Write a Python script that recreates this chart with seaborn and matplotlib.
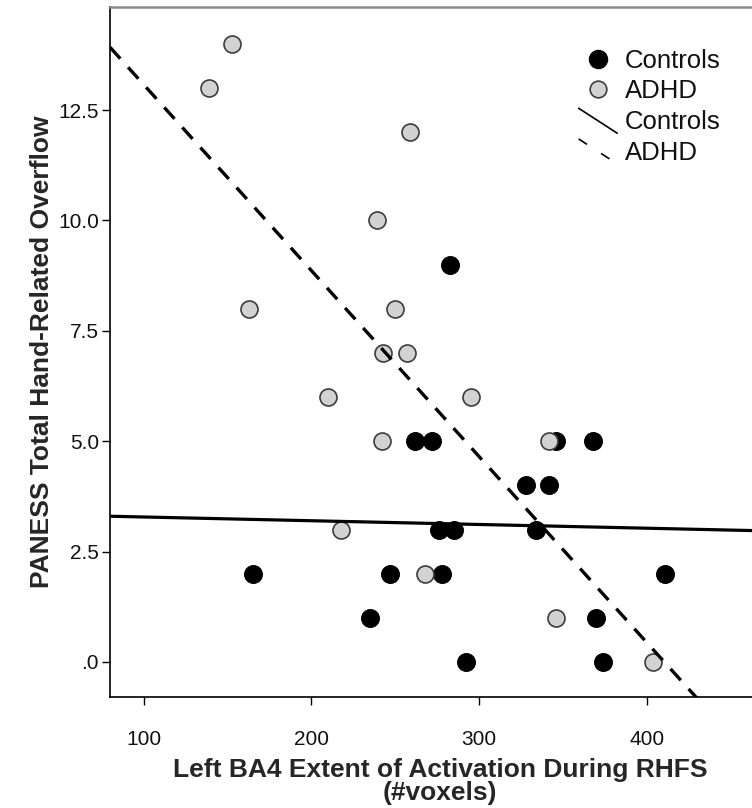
import matplotlib
matplotlib.use("Agg")
import matplotlib.pyplot as plt
import seaborn as sns
import pandas as pd
from matplotlib.lines import Line2D
from matplotlib.legend_handler import HandlerBase

# ---- data ----
ctrl_x = [283, 262, 272, 346, 368, 328, 342, 276, 285, 334, 165, 247, 278, 411, 235, 370, 292, 374]
ctrl_y = [9, 5, 5, 5, 5, 4, 4, 3, 3, 3, 2, 2, 2, 2, 1, 1, 0, 0]
adhd_x = [153, 139, 259, 239, 163, 250, 243, 257, 210, 295, 242, 342, 218, 268, 346, 404]
adhd_y = [14, 13, 12, 10, 8, 8, 7, 7, 6, 6, 5, 5, 3, 2, 1, 0]
groups = ["Controls", "ADHD"]
x_ticks = [100, 200, 300, 400]
y_ticks = [0, 2.5, 5, 7.5, 10, 12.5]
y_tick_labels = [".0", "2.5", "5.0", "7.5", "10.0", "12.5"]
x_label = "Left BA4 Extent of Activation During RHFS\n(#voxels)"
y_label = "PANESS Total Hand-Related Overflow"

df = pd.DataFrame({
    "voxels": ctrl_x + adhd_x,
    "overflow": ctrl_y + adhd_y,
    "group": [groups[0]] * len(ctrl_x) + [groups[1]] * len(adhd_x),
})

sns.set_style("white")
plt.rcParams["font.family"] = ["Liberation Sans", "DejaVu Sans"]

W, H = 752, 808
fig = plt.figure(figsize=(W / 100, H / 100), dpi=100)
ax = fig.add_axes([110 / W, 1 - 696.7 / H, 642 / W, (696.7 - 7.3) / H])

XLIM = (80, 462.8)
YLIM = (-0.786, 14.826)
ax.set_xlim(*XLIM)
ax.set_ylim(*YLIM)

ctrl_color = "black"
adhd_face = "#d2d2d2"
adhd_edge = "#3c3c3c"

sub_c = df[df["group"] == "Controls"]
sub_a = df[df["group"] == "ADHD"]

sns.regplot(data=sub_c, x="voxels", y="overflow", ax=ax, ci=None, truncate=False,
            color=ctrl_color,
            scatter_kws=dict(s=160, edgecolors="black", linewidths=1.0, alpha=1, zorder=2),
            line_kws=dict(color="black", lw=2.3, ls="-", zorder=3))
sns.regplot(data=sub_a, x="voxels", y="overflow", ax=ax, ci=None, truncate=False,
            color=adhd_face,
            scatter_kws=dict(s=150, facecolors=adhd_face, edgecolors=adhd_edge, linewidths=1.2,
                             alpha=1, zorder=2),
            line_kws=dict(color="black", lw=2.4, ls=(0, (4.6, 3.5)), zorder=3))

ax.set_xlim(*XLIM)
ax.set_ylim(*YLIM)

ax.set_xticks(x_ticks)
ax.set_xticklabels([str(t) for t in x_ticks])
ax.set_yticks(y_ticks)
ax.set_yticklabels(y_tick_labels)
ax.tick_params(axis="both", which="major", direction="out", length=6, width=1,
               color="black", labelsize=15, labelcolor="#111111", pad=2,
               bottom=True, left=True)
ax.tick_params(axis="x", pad=18)

ax.set_xlabel(x_label, fontsize=19, fontweight="bold", linespacing=0.95)
ax.set_ylabel(y_label, fontsize=19, fontweight="bold")
ax.xaxis.set_label_coords(0.514, -0.089)
ax.yaxis.set_label_coords(-0.087, 0.5)

for side in ["left", "bottom"]:
    ax.spines[side].set_color("black")
    ax.spines[side].set_linewidth(1.2)
ax.spines["top"].set_color("#8a8a8a")
ax.spines["top"].set_linewidth(1.8)
ax.spines["right"].set_visible(False)


class HandlerDiag(HandlerBase):
    def create_artists(self, legend, orig_handle, xdescent, ydescent, width, height,
                       fontsize, trans):
        x0 = -xdescent
        y0 = -ydescent
        line = Line2D([x0, x0 + width], [y0 + height + 2, y0 - 3])
        line.update_from(orig_handle)
        line.set_transform(trans)
        return [line]


h_c = Line2D([], [], marker="o", ls="", markerfacecolor="black", markeredgecolor="black",
             markersize=13)
h_a = Line2D([], [], marker="o", ls="", markerfacecolor=adhd_face, markeredgecolor=adhd_edge,
             markeredgewidth=1.2, markersize=12)
h_lc = Line2D([], [], color="black", lw=1.2, ls="-")
h_la = Line2D([], [], color="black", lw=1.2, ls=(0, (6, 10)))

leg = ax.legend([h_c, h_a, h_lc, h_la], ["Controls", "ADHD", "Controls", "ADHD"],
                handler_map={h_lc: HandlerDiag(), h_la: HandlerDiag()},
                loc="upper left", bbox_to_anchor=(0.73, 0.94), frameon=False,
                fontsize=18.5, handlelength=1.5, handletextpad=0.3, labelspacing=0.26,
                borderpad=0, borderaxespad=0)
for t in leg.get_texts():
    t.set_color("#111111")

fig.savefig("out.png", dpi=100, facecolor="white")
